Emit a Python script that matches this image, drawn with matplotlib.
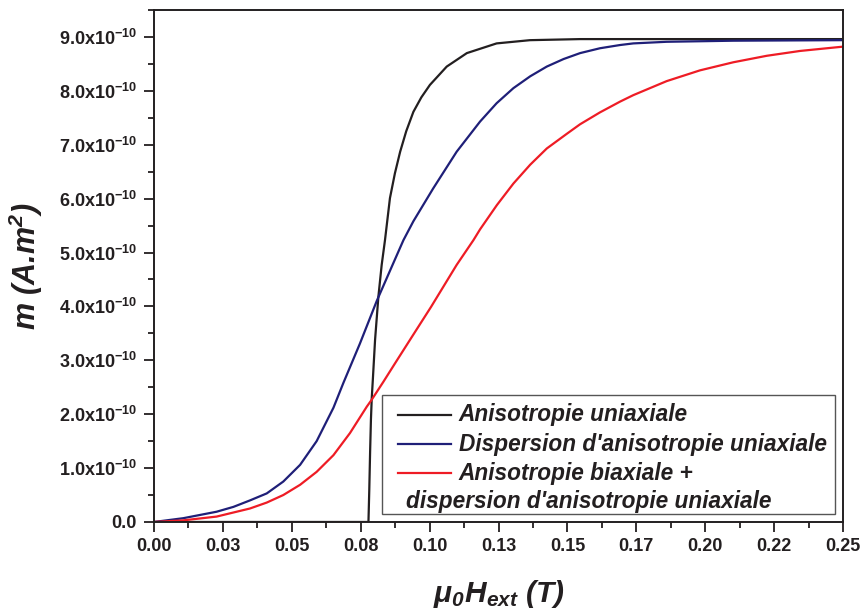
# Magnetisation curves m(H) for three anisotropy models
import matplotlib
matplotlib.use("Agg")
import matplotlib.pyplot as plt
from matplotlib.lines import Line2D
from matplotlib.legend_handler import HandlerLine2D

plt.rcParams['font.family'] = ['Liberation Sans', 'DejaVu Sans']
plt.rcParams['font.weight'] = 'bold'
plt.rcParams['mathtext.fontset'] = 'custom'
plt.rcParams['mathtext.rm'] = 'Liberation Sans:bold'
plt.rcParams['mathtext.it'] = 'Liberation Sans:bold:italic'
plt.rcParams['mathtext.sf'] = 'Liberation Sans:bold:italic'
plt.rcParams['mathtext.bf'] = 'Liberation Sans:bold'
plt.rcParams['mathtext.default'] = 'rm'

# field (T) and moment (x1e-10 A.m^2)
uni_x = [0.0, 0.0778, 0.0781, 0.0784, 0.0787, 0.0790, 0.0794, 0.0802, 0.0814,
         0.0826, 0.0838, 0.0856, 0.0874, 0.0893, 0.0915, 0.0941, 0.0970,
         0.1001, 0.1062, 0.1135, 0.1243, 0.1364, 0.1546, 0.2000, 0.2500]
uni_m = [0.0, 0.0, 0.60, 1.30, 1.90, 2.30, 2.65, 3.38, 4.18,
         4.77, 5.23, 6.01, 6.47, 6.87, 7.25, 7.61, 7.88,
         8.11, 8.45, 8.70, 8.88, 8.94, 8.96, 8.96, 8.96]

disp_x = [0.0, 0.0106, 0.0227, 0.0288, 0.0348, 0.0409, 0.0469, 0.0530, 0.0590,
          0.0651, 0.0687, 0.0747, 0.0808, 0.0868, 0.0905, 0.0941, 0.1013,
          0.1098, 0.1183, 0.1243, 0.1304, 0.1365, 0.1425, 0.1486, 0.1546,
          0.1618, 0.1691, 0.1739, 0.1860, 0.2102, 0.2500]
disp_m = [0.0, 0.07, 0.19, 0.28, 0.40, 0.53, 0.75, 1.06, 1.50,
          2.12, 2.58, 3.31, 4.10, 4.80, 5.23, 5.58, 6.19,
          6.87, 7.43, 7.77, 8.05, 8.27, 8.45, 8.59, 8.70,
          8.79, 8.85, 8.88, 8.91, 8.93, 8.94]

biax_x = [0.0, 0.0106, 0.0227, 0.0348, 0.0409, 0.0469, 0.0530, 0.0590, 0.0651,
          0.0711, 0.0772, 0.0790, 0.0832, 0.0874, 0.0940, 0.1005, 0.1098,
          0.1159, 0.1183, 0.1244, 0.1304, 0.1365, 0.1425, 0.1497, 0.1546,
          0.1618, 0.1691, 0.1739, 0.1860, 0.1981, 0.2102, 0.2223, 0.2344,
          0.2500]
biax_m = [0.0, 0.03, 0.10, 0.25, 0.36, 0.50, 0.69, 0.93, 1.24,
          1.65, 2.14, 2.27, 2.60, 2.94, 3.47, 3.99, 4.77,
          5.23, 5.43, 5.88, 6.28, 6.63, 6.93, 7.20, 7.38,
          7.60, 7.80, 7.92, 8.18, 8.38, 8.53, 8.65, 8.74,
          8.82]

labels = ["Anisotropie uniaxiale",
          "Dispersion d'anisotropie uniaxiale",
          "Anisotropie biaxiale +"]
extra_line = "dispersion d'anisotropie uniaxiale"
colors = ['#231f20', '#1f1f78', '#ee1c25']

x_ticks = [0.0, 0.025, 0.05, 0.075, 0.10, 0.125, 0.15, 0.175, 0.20, 0.225, 0.25]
x_labels = ['0.00', '0.03', '0.05', '0.08', '0.10', '0.13', '0.15', '0.17',
            '0.20', '0.22', '0.25']
y_ticks = [0, 1, 2, 3, 4, 5, 6, 7, 8, 9]
y_labels = ['0.0'] + ['%d.0x10$^{-10}$' % v for v in y_ticks[1:]]

ink = '#231f20'
leg_size = 16.3

fig = plt.figure(figsize=(8.62, 6.13), dpi=100)
ax = fig.add_axes([0.1787, 0.1485, 0.7993, 0.8352])

ax.plot(uni_x, uni_m, color=colors[0], lw=1.6, label=labels[0])
ax.plot(disp_x, disp_m, color=colors[1], lw=1.6, label=labels[1])
ax.plot(biax_x, biax_m, color=colors[2], lw=1.6, label=labels[2])

ax.set_xlim(0, 0.25)
ax.set_ylim(0, 9.5)
ax.set_xticks(x_ticks)
ax.set_xticklabels(x_labels)
ax.set_xticks([t + 0.0125 for t in x_ticks[:-1]], minor=True)
ax.set_yticks(y_ticks)
ax.set_yticklabels(y_labels)
ax.set_yticks([t + 0.5 for t in y_ticks], minor=True)

ax.tick_params(which='major', direction='out', length=7.5, width=1.3,
               color=ink, labelsize=13, labelcolor=ink)
ax.tick_params(axis='x', which='major', pad=4)
ax.tick_params(axis='y', which='major', pad=5)
ax.tick_params(which='minor', direction='out', length=4.5, width=1.3, color=ink)
for s in ax.spines.values():
    s.set_linewidth(1.4)
    s.set_color(ink)

ax.set_ylabel('m (A.m$^{\\mathsf{2}}$)', fontsize=22, fontstyle='italic',
              fontweight='bold', color=ink)
ax.yaxis.set_label_coords(-0.158, 0.5)
ax.set_xlabel('\u03bc$_{\\mathsf{0}}$H$_{\\mathsf{ext}}$ (T)', fontsize=21.5,
              fontstyle='italic', fontweight='bold', color=ink)
ax.xaxis.set_label_coords(0.5, -0.11)
ax.xaxis.label.set_va('top')

# legend: a short 4th row leaves room for the second line of the red label
handles, lbls = ax.get_legend_handles_labels()
handles.append(Line2D([], [], color='none'))
lbls.append(' ')
leg = ax.legend(handles, lbls, loc='lower right', bbox_to_anchor=(0.988, 0.016),
                borderaxespad=0, fancybox=False, framealpha=1, edgecolor='#555555',
                handlelength=2.7, handleheight=0.35, handletextpad=0.36,
                labelspacing=0.28, borderpad=0.35,
                prop={'size': leg_size, 'style': 'italic', 'weight': 'bold'},
                handler_map={Line2D: HandlerLine2D(xpad=0.36)})
leg.get_frame().set_linewidth(1.0)
for t in leg.get_texts():
    t.set_color(ink)
leg.get_texts()[3].set_fontsize(4)

fig.canvas.draw()
box = leg.get_frame().get_window_extent()
fig.text((box.x0 + 24) / fig.bbox.width, (box.y0 + 6) / fig.bbox.height,
         extra_line, fontsize=leg_size, fontstyle='italic',
         fontweight='bold', color=ink, va='baseline', ha='left')

fig.savefig('out.png', dpi=100, facecolor='white')
